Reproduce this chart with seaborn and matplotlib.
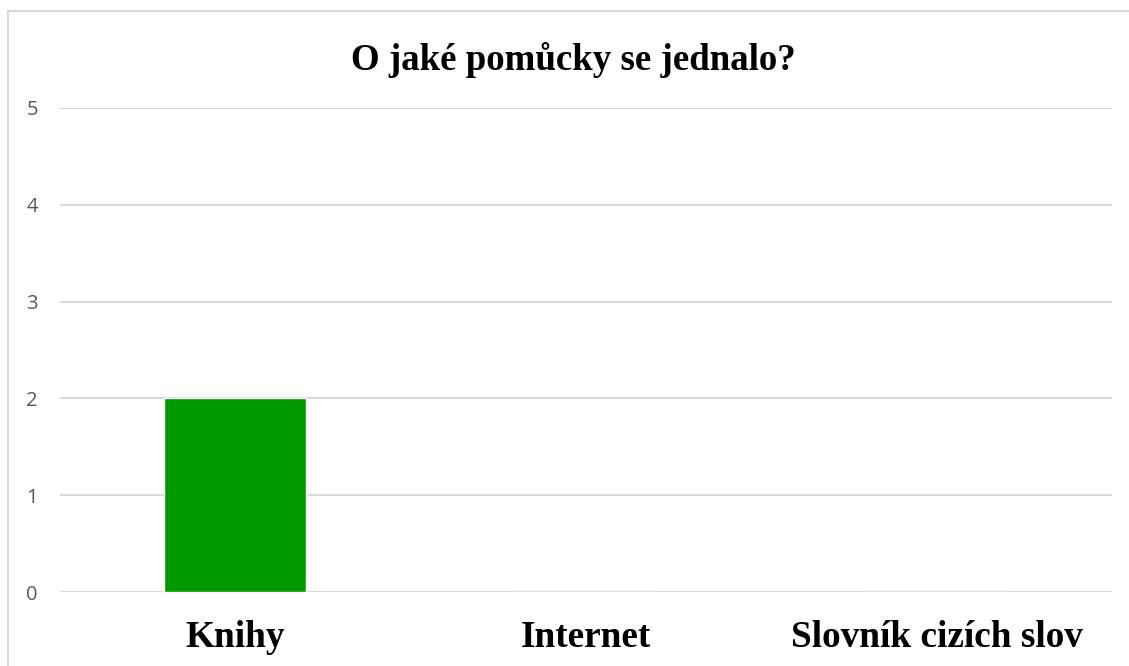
import matplotlib
matplotlib.use("Agg")
import matplotlib.pyplot as plt
import seaborn as sns
import pandas as pd
from matplotlib.patches import Rectangle

categories = ["Knihy", "Internet", "Slovník cizích slov"]
values = [2, 0, 0]
yticks = [0, 1, 2, 3, 4, 5]
title = "O jaké pomůcky se jednalo?"

sns.set_theme(style="white")
plt.rcParams['font.family'] = ['Liberation Serif', 'DejaVu Serif']

W, H = 1129, 666
fig = plt.figure(figsize=(W / 100, H / 100), dpi=100)
ax = fig.add_axes([60 / W, 1 - 592 / H, (1112 - 60) / W, (592 - 108) / H])

df = pd.DataFrame({"cat": categories, "val": values})
sns.barplot(data=df, x="cat", y="val", color="#009900", saturation=1,
            width=0.405, ax=ax, zorder=3)

ax.set_ylim(0, 5)
ax.set_yticks(yticks)
ax.set_yticklabels([str(t) for t in yticks], fontfamily="Open Sans",
                   fontsize=14.5, color="#595959")
ax.tick_params(axis="y", length=0, pad=16)
ax.tick_params(axis="x", length=0, pad=20)
for lbl in ax.get_xticklabels():
    lbl.set_fontweight("bold")
    lbl.set_fontsize(26.8)
    lbl.set_color("black")
ax.set_xlabel("")
ax.set_ylabel("")
ax.grid(axis="y", color="#d9d9d9", linewidth=1.5, zorder=0)
ax.grid(axis="x", visible=False)
for s in ax.spines.values():
    s.set_visible(False)

fig.text(573 / W, 1 - 60 / H, title, ha="center", va="center",
         fontsize=26.6, fontweight="bold", color="black")

fig.patches.append(Rectangle((8 / W, -0.1), 1.2, 1 - 11 / H + 0.1,
                             transform=fig.transFigure, fill=False,
                             edgecolor="#d9d9d9", linewidth=1.5))

fig.savefig("out.png", dpi=100)
